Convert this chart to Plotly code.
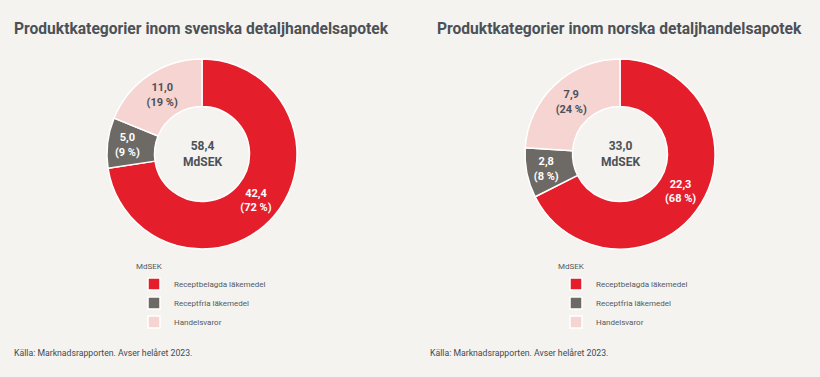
import plotly.graph_objects as go

categories = ["Receptbelagda läkemedel", "Receptfria läkemedel", "Handelsvaror"]
se_values = [42.4, 5.0, 11.0]
se_percent = [72, 9, 19]
se_total = "58,4"
no_values = [22.3, 2.8, 7.9]
no_percent = [68, 8, 24]
no_total = "33,0"
titles = ["Produktkategorier inom svenska detaljhandelsapotek",
          "Produktkategorier inom norska detaljhandelsapotek"]
unit = "MdSEK"
source = "Källa: Marknadsrapporten. Avser helåret 2023."

colors = ["#e41e2b", "#6d6a66", "#f6d4d1"]
W, H = 820, 377
BG = "#f4f3ef"
FONT = "Roboto, Arial, sans-serif"
DARK = "#4c5157"

fig = go.Figure()

def add_pie(labels, values, pct, cx, legend_name):
    r = 95
    cy = 154
    fig.add_trace(go.Pie(
        labels=labels, values=values, customdata=pct,
        hole=0.5, sort=False, direction="clockwise", rotation=0,
        marker=dict(colors=colors, line=dict(color="#ffffff", width=1.5)),
        texttemplate="<b>%{value:.1f}<br>(%{customdata} %)</b>",
        textposition="inside", insidetextorientation="horizontal",
        textfont=dict(family=FONT, size=11, color=["#ffffff", "#ffffff", DARK]),
        domain=dict(x=[(cx - r) / W, (cx + r) / W], y=[1 - (cy + r) / H, 1 - (cy - r) / H]),
        legend=legend_name, hoverinfo="label+value",
    ))

add_pie(categories, se_values, se_percent, 202, "legend")
# zero-width space keeps the second legend's entries separate from the first
add_pie([c + "\u200b" for c in categories], no_values, no_percent, 620, "legend2")

legend_common = dict(
    bgcolor="rgba(0,0,0,0)", font=dict(family=FONT, size=8, color="#555a60"),
    title=dict(text=unit, font=dict(family=FONT, size=8, color="#555a60")),
    xanchor="left", yanchor="top", tracegroupgap=0, itemwidth=30,
)

fig.update_layout(
    width=W, height=H, margin=dict(l=0, r=0, t=0, b=0),
    paper_bgcolor=BG, plot_bgcolor=BG, separators=", ",
    uniformtext=dict(minsize=11, mode="show"),
    legend=dict(x=134 / W, y=1 - 259 / H, **legend_common),
    legend2=dict(x=556 / W, y=1 - 259 / H, **legend_common),
    showlegend=True,
)

anns = []
for i, (tx, total, cx) in enumerate([(12, se_total, 202), (435, no_total, 620)]):
    anns.append(dict(text="<b>" + titles[i] + "</b>", x=tx / W, y=1 - 29 / H, xref="paper", yref="paper",
                     xanchor="left", yanchor="middle", showarrow=False,
                     font=dict(family=FONT, size=15.6, color=DARK)))
    anns.append(dict(text="<b>" + total + "<br>" + unit + "</b>", x=cx / W, y=1 - 154 / H,
                     xref="paper", yref="paper", xanchor="center", yanchor="middle", showarrow=False,
                     font=dict(family=FONT, size=12, color=DARK)))
    anns.append(dict(text=source, x=(12 if i == 0 else 428) / W, y=1 - 353 / H, xref="paper", yref="paper",
                     xanchor="left", yanchor="middle", showarrow=False,
                     font=dict(family=FONT, size=8.7, color="#45494e")))
fig.update_layout(annotations=anns)

fig.write_html("out.html", config={"displayModeBar": False},
               post_script="document.body.style.margin='0';document.body.style.overflow='hidden';")
